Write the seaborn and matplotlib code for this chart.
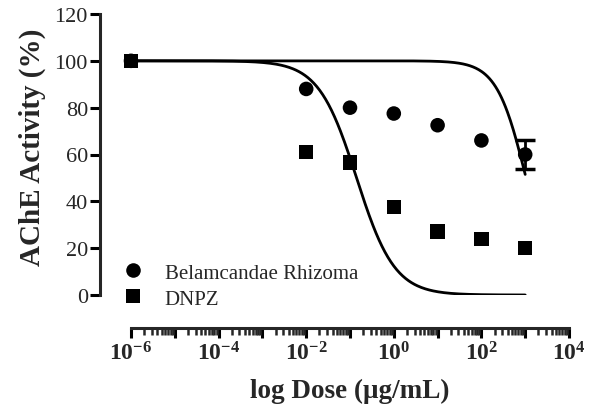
import numpy as np
import pandas as pd
import matplotlib
matplotlib.use("Agg")
import matplotlib.pyplot as plt
import seaborn as sns
from matplotlib.ticker import LogLocator, FuncFormatter, NullFormatter

# --- data ---
doses = [1e-6, 1e-2, 1e-1, 1e0, 1e1, 1e2, 1e3]
belam_activity = [100, 88, 80, 77.5, 72.5, 66, 60]
belam_sem = [0, 0, 0, 0, 0, 0, 6]
dnpz_activity = [100, 61, 56.5, 37.5, 27, 24, 20]
y_ticks = [0, 20, 40, 60, 80, 100, 120]

# fitted dose-response (top, bottom, logIC50, hill slope)
belam_fit = (100, 0, 3.02, 1.3)
dnpz_fit = (100, 0, -0.85, 1.0)

sns.set_style("ticks")
plt.rcParams["font.family"] = ["Liberation Serif", "DejaVu Serif"]
plt.rcParams["mathtext.fontset"] = "custom"
plt.rcParams["mathtext.rm"] = "Liberation Serif"
plt.rcParams["mathtext.bf"] = "Liberation Serif:bold"


def hill(x, top, bottom, log_ic50, slope):
    return bottom + (top - bottom) / (1 + 10 ** ((np.log10(x) - log_ic50) * slope))


xs = np.logspace(-6, 3, 400)
curves = pd.concat([
    pd.DataFrame({"dose": xs, "act": hill(xs, *belam_fit), "grp": "Belamcandae Rhizoma"}),
    pd.DataFrame({"dose": xs, "act": hill(xs, *dnpz_fit), "grp": "DNPZ"}),
])
points = pd.concat([
    pd.DataFrame({"dose": doses, "act": belam_activity, "grp": "Belamcandae Rhizoma"}),
    pd.DataFrame({"dose": doses, "act": dnpz_activity, "grp": "DNPZ"}),
])

fig = plt.figure(figsize=(5.96, 4.10), dpi=100)
ax = fig.add_axes([131 / 596, (410 - 296) / 410, (569 - 131) / 596, (296 - 15) / 410])

sns.lineplot(data=curves, x="dose", y="act", units="grp", estimator=None,
             color="black", lw=2.0, ax=ax, legend=False)
sns.scatterplot(data=points, x="dose", y="act", hue="grp", style="grp",
                markers={"Belamcandae Rhizoma": "o", "DNPZ": "s"},
                palette={"Belamcandae Rhizoma": "black", "DNPZ": "black"},
                s=110, edgecolor="black", linewidth=0, ax=ax, clip_on=False, zorder=3)

# error bar only where there is a visible SEM
err = [(d, a, e) for d, a, e in zip(doses, belam_activity, belam_sem) if e > 0]
ax.errorbar([e[0] for e in err], [e[1] for e in err], yerr=[e[2] for e in err],
            fmt="none", ecolor="black", elinewidth=2, capsize=7, capthick=2.5, zorder=4)

ax.set_xscale("log")
ax.set_xlim(1e-6, 1e4)
ax.set_ylim(0, 120)
ax.set_yticks(y_ticks, labels=[str(t) for t in y_ticks], fontweight="bold")

ax.xaxis.set_major_locator(LogLocator(base=10, numticks=20))
ax.xaxis.set_minor_locator(LogLocator(base=10, subs=np.arange(2, 10), numticks=20))
ax.xaxis.set_minor_formatter(NullFormatter())


def fmt(v, pos):
    e = int(round(np.log10(v)))
    if e % 2:
        return ""
    return r"$\mathbf{10^{%d}}$" % e


ax.xaxis.set_major_formatter(FuncFormatter(fmt))

ax.tick_params(axis="y", labelsize=16, width=2.2, length=7, color="black", pad=2)
ax.tick_params(axis="x", labelsize=17, width=2.2, length=7, color="black", pad=2)
ax.tick_params(axis="x", which="minor", width=1.8, length=5)

sns.despine(ax=ax)
ax.spines["left"].set_position(("outward", 22))
ax.spines["bottom"].set_position(("outward", 24))
ax.spines["left"].set_linewidth(2.2)
ax.spines["bottom"].set_linewidth(2.2)

ax.set_xlabel("log Dose (\u03bcg/mL)", fontsize=19.5, fontweight="bold", labelpad=10)
ax.set_ylabel("AChE Activity (%)", fontsize=21, fontweight="bold", labelpad=4)
ax.yaxis.set_label_coords(-0.194, 0.53)

leg = ax.legend(loc="lower left", bbox_to_anchor=(-0.085, -0.115), frameon=False,
                fontsize=15, handletextpad=0.5, labelspacing=0.3, markerscale=1.0)

fig.savefig("out.png", dpi=100)
